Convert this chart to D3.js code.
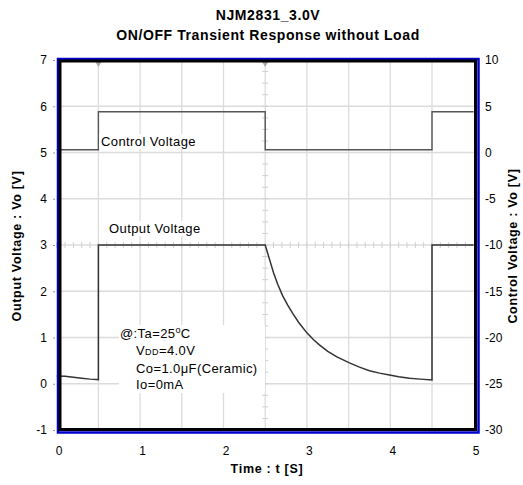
<!DOCTYPE html>
<html>
<head>
<meta charset="utf-8">
<script src="https://cdn.jsdelivr.net/npm/d3@7"></script>
<style>
body{margin:0;background:#fff;}
text{font-family:"Liberation Sans",Arial,sans-serif;}
</style>
</head>
<body>
<div id="chart"></div>
<script>
// datos
var titleLines=["NJM2831_3.0V","ON/OFF Transient Response without Load"];
var timeTicks=[0,1,2,3,4,5];
var leftTicks=[-1,0,1,2,3,4,5,6,7];
var rightTicks=[-30,-25,-20,-15,-10,-5,0,5,10];
var gridT=[0.5,1,1.5,2,2.5,3,3.5,4,4.5];
var gridV=[0,1,2,3,4,5,6];
var triggerT=[0.5,2.5];

var controlT=[0,0.5,0.5,2.5,2.5,4.5,4.5,5];
var controlV=[0.3,0.3,4.4,4.4,0.3,0.3,4.4,4.4];

var outT=[0,0.1,0.2,0.3,0.4,0.5,0.5,1,1.5,2,2.5,2.55,2.6,2.65,2.71,2.77,2.83,2.9,3.0,3.08,3.15,3.25,3.36,3.51,3.63,3.75,3.87,3.99,4.1,4.23,4.36,4.5,4.5,5];
var outV=[0.17,0.16,0.14,0.12,0.1,0.09,3.0,3.0,3.0,3.0,3.0,2.7,2.4,2.15,1.9,1.7,1.52,1.33,1.1,0.95,0.84,0.7,0.58,0.45,0.36,0.28,0.23,0.19,0.15,0.12,0.1,0.08,3.0,3.0];

var W=523,H=485;
var svg=d3.select("#chart").append("svg").attr("width",W).attr("height",H);

//Escalas
var x=d3.scaleLinear().domain([0,5]).range([56.7,473.7]);
var yL=d3.scaleLinear().domain([-1,7]).range([430,60]);
var yR=d3.scaleLinear().domain([-30,10]).range([430,60]);

//Titulo
svg.selectAll(".title").data(titleLines).enter().append("text")
	.attr("x",268).attr("y",(d,i)=>20+i*20)
	.attr("text-anchor","middle").attr("font-size","14px").attr("font-weight","bold")
	.attr("letter-spacing","0.6px")
	.text(d=>d);

//Rejilla
var grid=svg.append("g");
grid.selectAll(".gx").data(gridT).enter().append("line")
	.attr("x1",d=>x(d)).attr("x2",d=>x(d)).attr("y1",yL(7)).attr("y2",yL(-1))
	.attr("stroke","#dcdcdc").attr("stroke-width",1.3);
grid.selectAll(".gy").data(gridV).enter().append("line")
	.attr("y1",d=>yL(d)).attr("y2",d=>yL(d)).attr("x1",x(0)).attr("x2",x(5))
	.attr("stroke","#dcdcdc").attr("stroke-width",1.3);

//ejes centrales con marcas menores
var minorT=d3.range(0,50).map(i=>i/10);
grid.selectAll(".mt").data(minorT).enter().append("line")
	.attr("x1",d=>x(d)).attr("x2",d=>x(d)).attr("y1",yL(3)-3).attr("y2",yL(3)+3)
	.attr("stroke","#d0d0d0").attr("stroke-width",1);
var minorV=d3.range(-4,29).map(i=>i/4);
grid.selectAll(".mv").data(minorV).enter().append("line")
	.attr("y1",d=>yL(d)).attr("y2",d=>yL(d)).attr("x1",x(2.5)-3).attr("x2",x(2.5)+3)
	.attr("stroke","#d0d0d0").attr("stroke-width",1);

//marcas de disparo
grid.selectAll(".trig").data(triggerT).enter().append("path")
	.attr("d",d=>"M"+(x(d)-3)+","+(yL(7)+2)+"L"+(x(d)+3)+","+(yL(7)+2)+"L"+x(d)+","+(yL(7)+7)+"Z")
	.attr("fill","#a8a8a8");

//Lineas
var lineC=d3.line().x(d=>x(d[0])).y(d=>yR(d[1]));
var lineO=d3.line().x(d=>x(d[0])).y(d=>yL(d[1]));
svg.append("path").datum(d3.zip(controlT,controlV))
	.attr("d",lineC).attr("fill","none").attr("stroke","#555").attr("stroke-width",1.4);
svg.append("path").datum(d3.zip(outT,outV))
	.attr("d",lineO).attr("fill","none").attr("stroke","#333").attr("stroke-width",1.5);

//Etiquetas de series con fondo blanco
function label(tx,px,py){
	var g=svg.append("g");
	var t=g.append("text").attr("x",px).attr("y",py).attr("font-size","13px")
		.attr("letter-spacing","0.4px").text(tx);
	var b=t.node().getBBox();
	g.insert("rect","text").attr("x",b.x-2).attr("y",b.y).attr("width",b.width+4).attr("height",b.height).attr("fill","#fff");
}
label("Control Voltage",101,146);
label("Output Voltage",109,233);

//Cuadro de condiciones
svg.append("rect").attr("x",119).attr("y",325).attr("width",146).attr("height",68).attr("fill","#fff");
var nt=svg.append("g").attr("font-size","13px").attr("letter-spacing","0.4px");
var ta=nt.append("text").attr("x",120).attr("y",338);
ta.append("tspan").text("@:Ta=25");
ta.append("tspan").attr("font-size","9px").attr("dy",-5).text("o");
ta.append("tspan").attr("dy",5).text("C");
var vdd=nt.append("text").attr("x",136).attr("y",355);
vdd.append("tspan").text("V");
vdd.append("tspan").attr("font-size","9px").text("DD");
vdd.append("tspan").text("=4.0V");
nt.append("text").attr("x",136).attr("y",373).text("Co=1.0\u03BCF(Ceramic)");
nt.append("text").attr("x",136).attr("y",389).text("Io=0mA");

//Marco
svg.append("rect").attr("x",58).attr("y",59).attr("width",420.5).attr("height",373.5)
	.attr("fill","none").attr("stroke","#0000cc").attr("stroke-width",2.5);
svg.append("rect").attr("x",60).attr("y",61).attr("width",415.5).attr("height",368.5)
	.attr("fill","none").attr("stroke","#000").attr("stroke-width",3);

//Ejes
var fmt=d=>String(d);
var ejeL=svg.append("g").attr("transform","translate(55,0)")
	.call(d3.axisLeft(yL).tickValues(leftTicks).tickSize(2).tickPadding(6).tickFormat(fmt));
var ejeR=svg.append("g").attr("transform","translate(481,0)")
	.call(d3.axisRight(yR).tickValues(rightTicks).tickSize(0).tickPadding(4).tickFormat(fmt));
var ejeX=svg.append("g").attr("transform","translate(2,436)")
	.call(d3.axisBottom(x).tickValues(timeTicks).tickSize(0).tickPadding(10).tickFormat(fmt));
[ejeL,ejeR,ejeX].forEach(function(e){
	e.select(".domain").remove();
	e.selectAll("text").attr("font-size","12px").attr("fill","#000").attr("font-family","Liberation Sans, Arial, sans-serif");
	e.selectAll("line").attr("stroke","#999");
});

//Titulos de ejes
svg.append("text").attr("transform","translate(21,246) rotate(-90)")
	.attr("text-anchor","middle").attr("font-size","12.5px").attr("font-weight","bold")
	.attr("letter-spacing","0.7px")
	.text("Output Voltage : Vo [V]");
svg.append("text").attr("transform","translate(517,246) rotate(-90)")
	.attr("text-anchor","middle").attr("font-size","12.5px").attr("font-weight","bold")
	.attr("letter-spacing","0.7px")
	.text("Control Voltage : Vo [V]");
svg.append("text").attr("x",267).attr("y",473)
	.attr("text-anchor","middle").attr("font-size","12.5px").attr("font-weight","bold")
	.attr("letter-spacing","0.7px")
	.text("Time : t [S]");
</script>
</body>
</html>
